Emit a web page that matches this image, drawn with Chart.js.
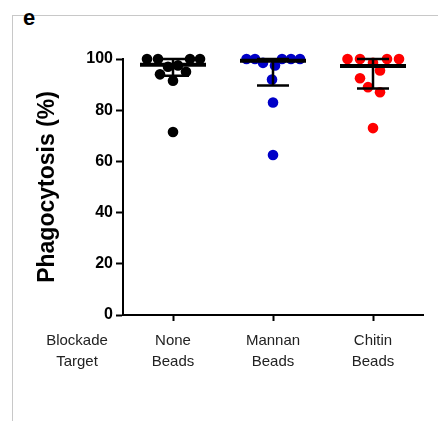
<!DOCTYPE html>
<html>
<head>
<meta charset="utf-8">
<script src="https://cdn.jsdelivr.net/npm/chart.js@4"></script>
<style>
  body { margin: 0; background: #fff; }
  #wrap { position: relative; width: 438px; height: 421px; }
  #frame { position: absolute; left: 12px; top: 15px; right: 0; bottom: 0;
           border-top: 1px solid #c8c8c8; border-left: 1px solid #c8c8c8; }
  #panel { position: absolute; left: 23px; top: 5px; font: bold 22px "Liberation Sans", Arial, sans-serif; }
  canvas { position: absolute; left: 0; top: 0; }
</style>
</head>
<body>
<div id="wrap">
  <div id="frame"></div>
  <div id="panel">e</div>
  <canvas id="chart" width="438" height="421"></canvas>
</div>
<script>
// groups and values
const categories = [['None', 'Beads'], ['Mannan', 'Beads'], ['Chitin', 'Beads']];
const rowLabel = ['Blockade', 'Target'];
const yTicks = [0, 20, 40, 60, 80, 100];

const noneValues = [100, 100, 100, 100, 97, 97.5, 94, 91.5, 95, 71.5];
const noneJitter = [-0.26, -0.15, 0.17, 0.27, -0.05, 0.05, -0.13, 0, 0.13, 0];
const mannanValues = [100, 100, 100, 100, 100, 98.5, 97.5, 92, 83, 62.5];
const mannanJitter = [-0.265, -0.18, 0.09, 0.18, 0.27, -0.1, 0.02, -0.01, 0, 0];
const chitinValues = [100, 100, 100, 100, 98.5, 95.5, 92.5, 89, 87, 73];
const chitinJitter = [-0.255, -0.13, 0.14, 0.26, 0, 0.07, -0.13, -0.05, 0.07, 0];

// median with interquartile range
const medians = [97.8, 99.3, 97.3];
const upper = [100, 100, 100];
const lower = [93.5, 89.6, 88.5];

const colors = ['#000000', '#0000c8', '#ff0000'];

function points(values, jitter, pos) {
    return values.map((v, i) => ({ x: pos + jitter[i], y: v }));
}

const font = '"Liberation Sans", Arial, sans-serif';

// median bar + whiskers on top of the dots
const errorBars = {
    id: 'errorBars',
    afterDatasetsDraw(chart) {
        const ctx = chart.ctx;
        const xs = chart.scales.x, ys = chart.scales.y;
        ctx.save();
        ctx.strokeStyle = '#000';
        medians.forEach((m, i) => {
            const c = i + 1;
            ctx.lineWidth = 2.5;
            ctx.beginPath();
            ctx.moveTo(xs.getPixelForValue(c), ys.getPixelForValue(upper[i]));
            ctx.lineTo(xs.getPixelForValue(c), ys.getPixelForValue(lower[i]));
            [upper[i], lower[i]].forEach(v => {
                ctx.moveTo(xs.getPixelForValue(c - 0.16), ys.getPixelForValue(v));
                ctx.lineTo(xs.getPixelForValue(c + 0.16), ys.getPixelForValue(v));
            });
            ctx.stroke();
            ctx.lineWidth = 4;
            ctx.beginPath();
            ctx.moveTo(xs.getPixelForValue(c - 0.33), ys.getPixelForValue(m));
            ctx.lineTo(xs.getPixelForValue(c + 0.33), ys.getPixelForValue(m));
            ctx.stroke();
        });
        // row label left of the categories
        ctx.fillStyle = '#222';
        ctx.font = '15px ' + font;
        ctx.textAlign = 'center';
        ctx.textBaseline = 'middle';
        const lx = xs.getPixelForValue(0.04);
        rowLabel.forEach((t, k) => ctx.fillText(t, lx, ys.bottom + 26 + k * 21));
        ctx.restore();
    }
};

new Chart(document.getElementById('chart'), {
    type: 'scatter',
    data: {
        datasets: [
            { data: points(noneValues, noneJitter, 1), backgroundColor: colors[0], clip: false },
            { data: points(mannanValues, mannanJitter, 2), backgroundColor: colors[1], clip: false },
            { data: points(chitinValues, chitinJitter, 3), backgroundColor: colors[2], clip: false }
        ]
    },
    options: {
        responsive: false,
        animation: false,
        layout: { padding: { left: 34, top: 59, right: 15, bottom: 40 } },
        elements: { point: { radius: 5.3, borderWidth: 0, hoverRadius: 5.3 } },
        plugins: { legend: { display: false }, tooltip: { enabled: false } },
        scales: {
            x: {
                type: 'linear',
                min: 0.5,
                max: 3.5,
                afterBuildTicks: axis => { axis.ticks = [1, 2, 3].map(v => ({ value: v })); },
                afterFit: axis => { axis.height = 66; },
                grid: { drawOnChartArea: false, color: '#000', tickLength: 6, tickWidth: 2 },
                border: { color: '#000', width: 2 },
                ticks: {
                    color: '#222',
                    padding: 9,
                    maxRotation: 0,
                    font: { family: font, size: 15, lineHeight: 1.4 },
                    callback: v => categories[v - 1]
                }
            },
            y: {
                min: 0,
                max: 100,
                afterBuildTicks: axis => { axis.ticks = yTicks.map(v => ({ value: v })); },
                afterFit: axis => { axis.width = 89; },
                grid: { drawOnChartArea: false, color: '#000', tickLength: 7, tickWidth: 2 },
                border: { color: '#000', width: 2 },
                ticks: {
                    color: '#000',
                    padding: 3,
                    font: { family: font, size: 16, weight: 'bold' }
                },
                title: {
                    display: true,
                    text: 'Phagocytosis (%)',
                    color: '#000',
                    padding: 0,
                    font: { family: font, size: 23, weight: 'bold' }
                }
            }
        }
    },
    plugins: [errorBars]
});
</script>
</body>
</html>
